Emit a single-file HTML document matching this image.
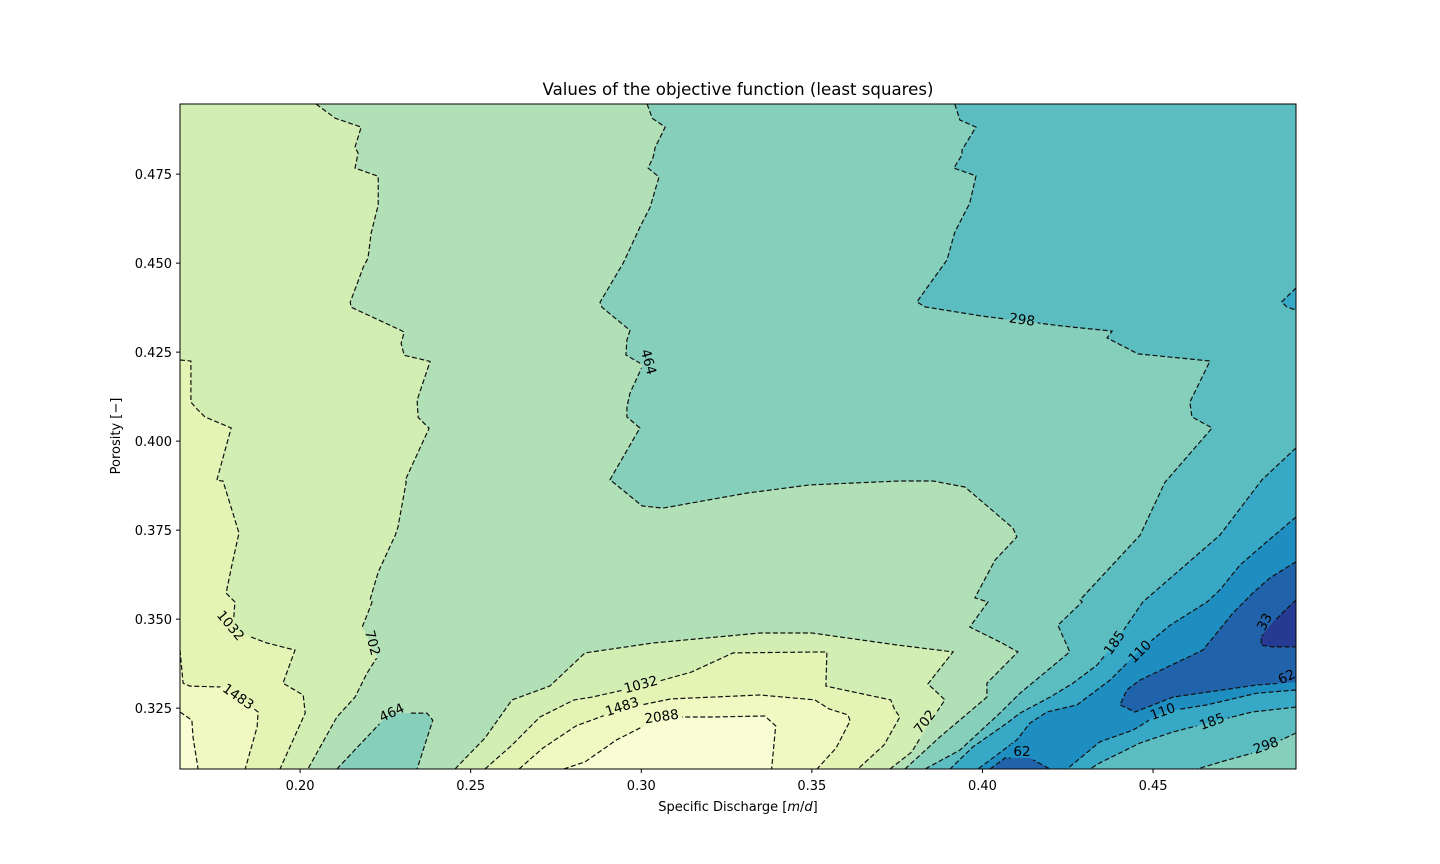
<!DOCTYPE html>
<html><head><meta charset="utf-8"><style>
html,body{margin:0;padding:0;background:#fff;}
svg{display:block;font-family:"DejaVu Sans","Liberation Sans",sans-serif;}
</style></head><body>
<svg id="chart" width="1440" height="864" viewBox="0 0 1440 864" xmlns="http://www.w3.org/2000/svg">
<defs>
<clipPath id="clip"><rect x="180" y="104" width="1116" height="665"/></clipPath>
<mask id="labelMask" maskUnits="userSpaceOnUse" x="0" y="0" width="1440" height="864"><rect x="0" y="0" width="1440" height="864" fill="#fff"/><g id="maskHoles"></g></mask>
</defs>
<text x="738" y="95" font-size="16.6" text-anchor="middle">Values of the objective function (least squares)</text>
<g id="fills" clip-path="url(#clip)"></g>
<g clip-path="url(#clip)"><g id="lines" mask="url(#labelMask)"></g></g>
<g id="labels"></g>
<rect x="180" y="104" width="1116" height="665" fill="none" stroke="#000" stroke-width="1"/>
<g id="xaxis"></g>
<g id="yaxis"></g>
<text x="738" y="811" font-size="13" text-anchor="middle">Specific Discharge [<tspan font-style="italic">m</tspan>/<tspan font-style="italic">d</tspan>]</text>
<text transform="translate(120,436) rotate(-90)" font-size="13" text-anchor="middle">Porosity [−]</text>
</svg>
<script>
// ---- data (data units: specific discharge, porosity) ----
const xTicks = [0.20, 0.25, 0.30, 0.35, 0.40, 0.45];
const yTicks = [0.325, 0.350, 0.375, 0.400, 0.425, 0.450, 0.475];
const levels = [33, 62, 110, 185, 298, 464, 702, 1032, 1483, 2088];
const L702a = [[.2047,.4947],[.2103,.4907],[.2179,.4882],[.2161,.4826],[.2170,.4809],[.2161,.4767],[.2229,.4744],[.2229,.4663],[.2208,.4584],[.2199,.4514],[.2185,.4488],[.2147,.4390],[.2150,.4376],[.2296,.4311],[.2305,.4306],[.2296,.4275],[.2305,.4241],[.2381,.4224],[.2343,.4115],[.2346,.4067],[.2378,.4036],[.2308,.3890],[.2311,.3885],[.2287,.3759],[.2279,.3736],[.2229,.3632],[.2205,.3554],[.2211,.3548],[.2196,.3511],[.2182,.3478],[.2226,.3393],[.2196,.3348],[.2161,.3281],[.2108,.3225],[.2023,.3079]];
const L1032a = [[.1648,.4228],[.1680,.4225],[.1680,.4110],[.1692,.4096],[.1721,.4068],[.1798,.4037],[.1756,.3890],[.1774,.3888],[.1821,.3742],[.1800,.3652],[.1783,.3573],[.1809,.3548],[.1803,.3469],[.1903,.3433],[.1985,.3413],[.1950,.3320],[.2009,.3287],[.2015,.3236],[.1941,.3079]];
const L1483a = [[.1648,.3413],[.1657,.3320],[.1677,.3312],[.1780,.3309],[.1877,.3239],[.1874,.3197],[.1839,.3079]];
const L2088a = [[.1648,.3239],[.1683,.3216],[.1686,.3169],[.1701,.3079]];
const L464pocket = [[.2108,.3079],[.2196,.3169],[.2243,.3216],[.2269,.3236],[.2372,.3236],[.2389,.3216],[.2343,.3079]];
const L702b = [[.2454,.3079],[.2542,.3166],[.2621,.3273],[.2732,.3312],[.2835,.3405],[.3034,.3433],[.3348,.3461],[.3500,.3461],[.3752,.3427],[.3914,.3408],[.3840,.3318],[.3890,.3273],[.3837,.3197],[.3793,.3127],[.3729,.3079]];
const L1032b = [[.2542,.3079],[.2621,.3146],[.2703,.3225],[.2803,.3273],[.2856,.3281],[.2999,.3312],[.3146,.3351],[.3269,.3405],[.3544,.3408],[.3541,.3312],[.3731,.3273],[.3743,.3245],[.3758,.3225],[.3711,.3146],[.3635,.3079]];
const L1483b = [[.2642,.3079],[.2712,.3138],[.2809,.3200],[.2944,.3248],[.3087,.3276],[.3348,.3287],[.3509,.3273],[.3550,.3248],[.3606,.3231],[.3612,.3214],[.3571,.3138],[.3515,.3079]];
const L2088b = [[.2773,.3079],[.2835,.3099],[.2928,.3161],[.3060,.3225],[.3213,.3225],[.3362,.3228],[.3394,.3200],[.3382,.3079]];
const L464 = [[.3017,.4947],[.3032,.4907],[.3070,.4882],[.3041,.4826],[.3035,.4798],[.3020,.4767],[.3052,.4742],[.3026,.4657],[.2996,.4601],[.2947,.4500],[.2879,.4390],[.2885,.4376],[.2967,.4311],[.2958,.4284],[.2955,.4242],[.3005,.4214],[.2967,.4135],[.2958,.4096],[.2958,.4068],[.2996,.4037],[.2908,.3891],[.2917,.3885],[.3002,.3818],[.3063,.3812],[.3310,.3854],[.3494,.3877],[.3758,.3888],[.3855,.3888],[.3949,.3871],[.4089,.3756],[.4101,.3731],[.4037,.3666],[.3978,.3560],[.4016,.3548],[.3963,.3478],[.4057,.3433],[.4104,.3408],[.4013,.3320],[.4013,.3281],[.3875,.3169],[.3773,.3079]];
const L298 = [[.3919,.4947],[.3934,.4902],[.3981,.4882],[.3940,.4818],[.3940,.4804],[.3916,.4767],[.3981,.4745],[.3963,.4669],[.3919,.4587],[.3896,.4509],[.3808,.4391],[.3832,.4377],[.4001,.4351],[.4236,.4323],[.4380,.4309],[.4365,.4290],[.4456,.4245],[.4667,.4225],[.4608,.4110],[.4614,.4068],[.4673,.4037],[.4541,.3891],[.4535,.3885],[.4462,.3736],[.4286,.3554],[.4292,.3548],[.4221,.3483],[.4256,.3408],[.4110,.3292],[.4051,.3236],[.3934,.3132],[.3832,.3079]];
const L298pocket = [[.4919,.4430],[.4877,.4391],[.4892,.4377],[.4919,.4368]];
const L298b = [[.4919,.3180],[.4863,.3155],[.4828,.3133],[.4717,.3104],[.4629,.3079]];
const L185 = [[.4919,.3981],[.4819,.3891],[.4696,.3736],[.4470,.3548],[.4388,.3433],[.4336,.3371],[.4265,.3320],[.4198,.3281],[.4110,.3236],[.4072,.3208],[.3972,.3141],[.3905,.3079]];
const L185b = [[.4919,.3253],[.4790,.3239],[.4673,.3211],[.4558,.3183],[.4462,.3152],[.4344,.3096],[.4315,.3079]];
const L110a = [[.4919,.3787],[.4822,.3708],[.4755,.3652],[.4696,.3582],[.4658,.3548],[.4550,.3483],[.4462,.3413],[.4374,.3329],[.4277,.3259],[.4189,.3239],[.4139,.3208],[.4101,.3161],[.4022,.3104],[.3987,.3079]];
const L110b = [[.4919,.3301],[.4804,.3292],[.4658,.3259],[.4529,.3239],[.4441,.3188],[.4344,.3155],[.4248,.3079]];
const L62 = [[.4919,.3661],[.4843,.3616],[.4793,.3574],[.4734,.3517],[.4646,.3413],[.4541,.3365],[.4462,.3329],[.4423,.3301],[.4403,.3259],[.4447,.3239],[.4558,.3281],[.4804,.3315],[.4919,.3323]];
const L62pocket = [[.4022,.3079],[.4066,.3110],[.4139,.3110],[.4198,.3079]];
const L33 = [[.4919,.3554],[.4849,.3489],[.4817,.3450],[.4817,.3427],[.4849,.3422],[.4919,.3422]];
const labelText = ["464","298","1032","702","1483","464","1032","1483","2088","702","185","110","33","62","110","185","298","62"];
const labelX = [.3020,.4116,.1795,.2211,.1818,.2269,.2999,.2944,.3060,.3832,.4388,.4462,.4828,.4892,.4529,.4673,.4831,.4116];
const labelY = [.4222,.4340,.3481,.3433,.3281,.3236,.3315,.3253,.3225,.3211,.3433,.3408,.3492,.3337,.3239,.3211,.3144,.3127];
const labelRot = [75,8,50,75,35,-25,-15,-18,-8,-52,-55,-45,-62,-25,-20,-20,-20,0];

// ---- axis functions ----
const X0 = 0.1648, X1 = 0.4919, Y0 = 0.3079, Y1 = 0.4947;
const PL = 180, PR = 1296, PT = 104, PB = 769;
const sx = v => PL + (v - X0) / (X1 - X0) * (PR - PL);
const sy = v => PB - (v - Y0) / (Y1 - Y0) * (PB - PT);
const NS = "http://www.w3.org/2000/svg";
const fills = document.getElementById('fills');
const lines = document.getElementById('lines');
const labels = document.getElementById('labels');
const holes = document.getElementById('maskHoles');
const pts = arr => arr.map(p => sx(p[0]).toFixed(1) + ',' + sy(p[1]).toFixed(1)).join(' ');
const BL = [X0, Y0], TL = [X0, Y1], BR = [X1, Y0], TR = [X1, Y1];

function fillPoly(arr, color, name) {
  const el = document.createElementNS(NS, 'polygon');
  el.setAttribute('points', pts(arr));
  el.setAttribute('fill', color);
  
  
  fills.appendChild(el);
}
function line(arr, name) {
  const el = document.createElementNS(NS, 'polyline');
  el.setAttribute('points', pts(arr));
  el.setAttribute('fill', 'none');
  el.setAttribute('stroke', '#111');
  el.setAttribute('stroke-width', '1.2');
  el.setAttribute('stroke-dasharray', '5,2.5');
  
  
  lines.appendChild(el);
}

const bg = document.createElementNS(NS, 'rect');
bg.setAttribute('x', PL); bg.setAttribute('y', PT);
bg.setAttribute('width', PR - PL); bg.setAttribute('height', PB - PT);
bg.setAttribute('fill', '#86cfba');


fills.appendChild(bg);

fillPoly([TL].concat(L464, [BL]), '#b2e0b6', 'band-464-702');
fillPoly(L464pocket, '#86cfba', 'band-298-464-pocket');
fillPoly(L702a.concat([BL, TL]), '#d3eeb3', 'band-702-1032-left');
fillPoly(L702b, '#d3eeb3', 'band-702-1032-bottom');
fillPoly(L1032a.concat([BL]), '#e4f4b5', 'band-1032-1483-left');
fillPoly(L1032b, '#e4f4b5', 'band-1032-1483-bottom');
fillPoly(L1483a.concat([BL]), '#f0f9c2', 'band-1483-2088-left');
fillPoly(L1483b, '#f0f9c2', 'band-1483-2088-bottom');
fillPoly(L2088a.concat([BL]), '#f9fdd4', 'band-above-2088-left');
fillPoly(L2088b, '#f9fdd4', 'band-above-2088-bottom');
fillPoly(L298.concat([BR, TR]), '#5bbdc0', 'band-185-298');
fillPoly(L298pocket, '#37a9c7', 'band-110-185-pocket');
fillPoly(L185.concat([BR]), '#37a9c7', 'band-110-185');
fillPoly(L110a.concat(L110b.slice().reverse()), '#1e8dc0', 'band-62-110');
fillPoly(L62pocket, '#2163aa', 'band-33-62-pocket');
fillPoly(L62, '#2163aa', 'band-33-62');
fillPoly(L33, '#263a94', 'band-below-33');
fillPoly(L185b.concat([BR]), '#5bbdc0', 'band-185-298-lower');
fillPoly(L298b.concat([BR]), '#86cfba', 'band-298-464-lower');

line(L702a, 'contour-702-left'); line(L702b, 'contour-702-bottom');
line(L1032a, 'contour-1032-left'); line(L1032b, 'contour-1032-bottom');
line(L1483a, 'contour-1483-left'); line(L1483b, 'contour-1483-bottom');
line(L2088a, 'contour-2088-left'); line(L2088b, 'contour-2088-bottom');
line(L464, 'contour-464'); line(L464pocket, 'contour-464-pocket');
line(L298, 'contour-298'); line(L298pocket, 'contour-298-pocket'); line(L298b, 'contour-298-lower');
line(L185, 'contour-185'); line(L185b, 'contour-185-lower');
line(L110a, 'contour-110-upper'); line(L110b, 'contour-110-lower');
line(L62, 'contour-62'); line(L62pocket, 'contour-62-pocket');
line(L33, 'contour-33');

for (let i = 0; i < labelText.length; i++) {
  const x = sx(labelX[i]), y = sy(labelY[i]);
  const tr = 'translate(' + x.toFixed(1) + ',' + y.toFixed(1) + ') rotate(' + labelRot[i] + ')';
  const w = labelText[i].length * 8.6 + 6;
  const hole = document.createElementNS(NS, 'rect');
  hole.setAttribute('x', -w / 2); hole.setAttribute('y', -8);
  hole.setAttribute('width', w); hole.setAttribute('height', 16);
  hole.setAttribute('transform', tr);
  hole.setAttribute('fill', '#000');
  holes.appendChild(hole);
  const t = document.createElementNS(NS, 'text');
  t.setAttribute('transform', tr);
  t.setAttribute('text-anchor', 'middle');
  t.setAttribute('dominant-baseline', 'central');
  t.setAttribute('font-size', '13.5');
  t.textContent = labelText[i];
  
  
  labels.appendChild(t);
}

const xa = document.getElementById('xaxis');
xTicks.forEach(v => {
  const x = sx(v);
  const tk = document.createElementNS(NS, 'line');
  tk.setAttribute('x1', x); tk.setAttribute('x2', x);
  tk.setAttribute('y1', PB); tk.setAttribute('y2', PB + 4);
  tk.setAttribute('stroke', '#000');
  
  
  xa.appendChild(tk);
  const t = document.createElementNS(NS, 'text');
  t.setAttribute('x', x); t.setAttribute('y', PB + 21);
  t.setAttribute('text-anchor', 'middle'); t.setAttribute('font-size', '13');
  t.textContent = v.toFixed(2);
  
  
  xa.appendChild(t);
});
const ya = document.getElementById('yaxis');
yTicks.forEach(v => {
  const y = sy(v);
  const tk = document.createElementNS(NS, 'line');
  tk.setAttribute('x1', PL - 4); tk.setAttribute('x2', PL);
  tk.setAttribute('y1', y); tk.setAttribute('y2', y);
  tk.setAttribute('stroke', '#000');
  
  
  ya.appendChild(tk);
  const t = document.createElementNS(NS, 'text');
  t.setAttribute('x', PL - 8); t.setAttribute('y', y + 5);
  t.setAttribute('text-anchor', 'end'); t.setAttribute('font-size', '13');
  t.textContent = v.toFixed(3);
  
  
  ya.appendChild(t);
});
</script>
</body></html>
